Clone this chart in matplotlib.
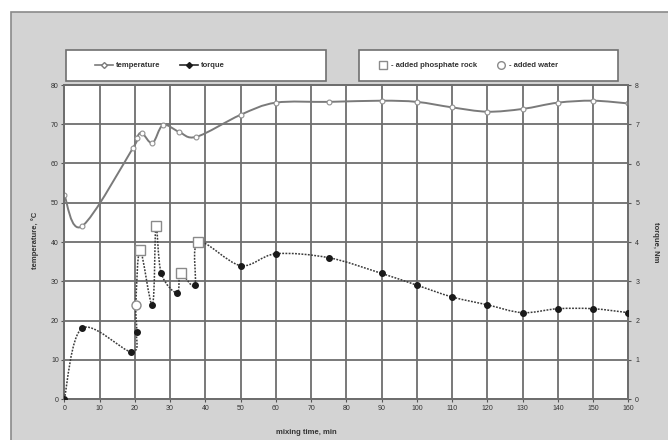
import matplotlib
matplotlib.use("Agg")
import matplotlib.pyplot as plt
from matplotlib.path import Path
from matplotlib.patches import PathPatch, Rectangle
from matplotlib.lines import Line2D
import numpy as np

plt.rcParams['font.family'] = ['Liberation Sans', 'DejaVu Sans']

# ---- data ----
temp_time = [0, 5, 19.5, 20.5, 22, 25, 28, 32.5, 37.5, 50, 60, 75, 90, 100, 110, 120, 130, 140, 150, 160]
temperature = [52, 44, 64, 66.5, 67.8, 65.2, 69.8, 68.1, 66.8, 72.4, 75.5, 75.7, 76, 75.7, 74.3, 73.2, 73.9, 75.5, 76, 75.3]

torque_time = [0, 5, 19, 20.5, 20.3, 21.5, 25, 26, 27.5, 32, 33, 37, 38, 50, 60, 75, 90, 100, 110, 120, 130, 140, 150, 160]
torque = [0, 1.8, 1.2, 1.7, 2.4, 3.8, 2.4, 4.4, 3.2, 2.7, 3.2, 2.9, 4.0, 3.4, 3.7, 3.6, 3.2, 2.9, 2.6, 2.4, 2.2, 2.3, 2.3, 2.2]
torque_event = ['', '', '', '', 'water', 'rock', '', 'rock', '', '', 'rock', '', 'rock',
                '', '', '', '', '', '', '', '', '', '', '']

x_ticks = list(range(0, 161, 10))
temp_ticks = list(range(0, 81, 10))
torque_ticks = list(range(0, 9))

W, H = 668, 440
fig = plt.figure(figsize=(W / 100, H / 100), dpi=100, facecolor='white')

# chart area background
fig.patches.append(Rectangle((11 / W, -0.05), 1.0, 1.05 - 12 / H, transform=fig.transFigure,
                             facecolor='#d3d3d3', edgecolor='#8a8a8a', linewidth=1.2, zorder=-10))

ax = fig.add_axes([64.3 / W, 1 - 399 / H, (628.3 - 64.3) / W, (399 - 85) / H])
ax.set_facecolor('white')
ax2 = ax.twinx()

grid_c = '#6e6e6e'
ax.set_xlim(0, 160)
ax.set_ylim(0, 80)
ax2.set_ylim(0, 8)
ax.set_xticks(x_ticks)
ax.set_yticks(temp_ticks)
ax2.set_yticks(torque_ticks)
ax.grid(True, color=grid_c, linewidth=1.3)
ax.set_axisbelow(True)
for a in (ax, ax2):
    for s in a.spines.values():
        s.set_color(grid_c)
        s.set_linewidth(1.3)
ax.tick_params(axis='both', labelsize=5, colors='#555555', length=2, width=0.8, pad=2,
               labelcolor='#333333')
ax2.tick_params(axis='y', labelsize=5, colors='#555555', length=2, width=0.8, pad=3,
                labelcolor='#333333')


def smooth_path(xs, ys):
    pts = np.column_stack([xs, ys]).astype(float)
    n = len(pts)
    verts = [pts[0]]
    codes = [Path.MOVETO]
    for i in range(n - 1):
        p0 = pts[i - 1] if i > 0 else pts[i]
        p1 = pts[i]
        p2 = pts[i + 1]
        p3 = pts[i + 2] if i + 2 < n else pts[i + 1]
        c1 = p1 + (p2 - p0) / 6.0
        c2 = p2 - (p3 - p1) / 6.0
        verts += [c1, c2, p2]
        codes += [Path.CURVE4] * 3
    return Path(verts, codes)


# temperature
ax.add_patch(PathPatch(smooth_path(temp_time, temperature), facecolor='none',
                       edgecolor='#7a7a7a', linewidth=1.4, zorder=3))
ax.plot(temp_time, temperature, linestyle='none', marker='o', markersize=3.5,
        markerfacecolor='white', markeredgecolor='#909090', markeredgewidth=0.8, zorder=4)

# torque
ax2.add_patch(PathPatch(smooth_path(torque_time, torque), facecolor='none',
                        edgecolor='#3a3a3a', linewidth=1.1, linestyle=(0, (1.2, 0.9)), zorder=3))
tt = np.array(torque_time, dtype=float)
tq = np.array(torque, dtype=float)
ev = np.array(torque_event)
m_norm = ev == ''
m_rock = ev == 'rock'
m_water = ev == 'water'
ax2.plot(tt[m_norm], tq[m_norm], linestyle='none', marker='o', markersize=4,
         markerfacecolor='#1a1a1a', markeredgecolor='#1a1a1a', zorder=5)
ax2.plot(tt[m_rock], tq[m_rock], linestyle='none', marker='s', markersize=6.5,
         markerfacecolor='white', markeredgecolor='#8a8a8a', markeredgewidth=1.0, zorder=5)
ax2.plot(tt[m_water], tq[m_water], linestyle='none', marker='o', markersize=6.5,
         markerfacecolor='white', markeredgecolor='#8a8a8a', markeredgewidth=1.0, zorder=5)

# axis labels
fig.text(35 / W, 1 - 240 / H, 'temperature, °C', rotation=90, ha='center', va='center',
         fontsize=5.5, fontweight='bold', color='#333333')
fig.text(655 / W, 1 - 242 / H, 'torque, Nm', rotation=270, ha='center', va='center',
         fontsize=5.5, fontweight='bold', color='#333333')
fig.text(306 / W, 1 - 432 / H, 'mixing time, min', ha='center', va='center',
         fontsize=5.5, fontweight='bold', color='#333333')

# legend boxes
for x0, x1 in ((66, 326), (359, 618)):
    fig.patches.append(Rectangle((x0 / W, 1 - 81 / H), (x1 - x0) / W, 31 / H,
                                 transform=fig.transFigure, facecolor='white',
                                 edgecolor='#707070', linewidth=1.2, zorder=1))

h1 = [Line2D([], [], color='#7a7a7a', linewidth=1.2, marker='D', markersize=3,
             markerfacecolor='white', markeredgecolor='#7a7a7a'),
      Line2D([], [], color='#2a2a2a', linewidth=1.2, marker='D', markersize=3,
             markerfacecolor='#1a1a1a', markeredgecolor='#1a1a1a')]
leg1 = fig.legend(h1, ['temperature', 'torque'], loc='center left',
                  bbox_to_anchor=(88 / W, 1 - 65.5 / H), ncol=2, frameon=False,
                  fontsize=5.5, handlelength=2.4, columnspacing=2.5, handletextpad=0.4)
h2 = [Line2D([], [], linestyle='none', marker='s', markersize=5.5,
             markerfacecolor='white', markeredgecolor='#8a8a8a'),
      Line2D([], [], linestyle='none', marker='o', markersize=5.5,
             markerfacecolor='white', markeredgecolor='#8a8a8a')]
leg2 = fig.legend(h2, ['- added phosphate rock', '- added water'], loc='center left',
                  bbox_to_anchor=(372 / W, 1 - 65.5 / H), ncol=2, frameon=False,
                  fontsize=5.5, handlelength=1.0, columnspacing=2.6, handletextpad=0.6)
for lg in (leg1, leg2):
    for t in lg.get_texts():
        t.set_fontweight('bold')
        t.set_color('#333333')

fig.savefig('out.png', dpi=100, facecolor=fig.get_facecolor())
